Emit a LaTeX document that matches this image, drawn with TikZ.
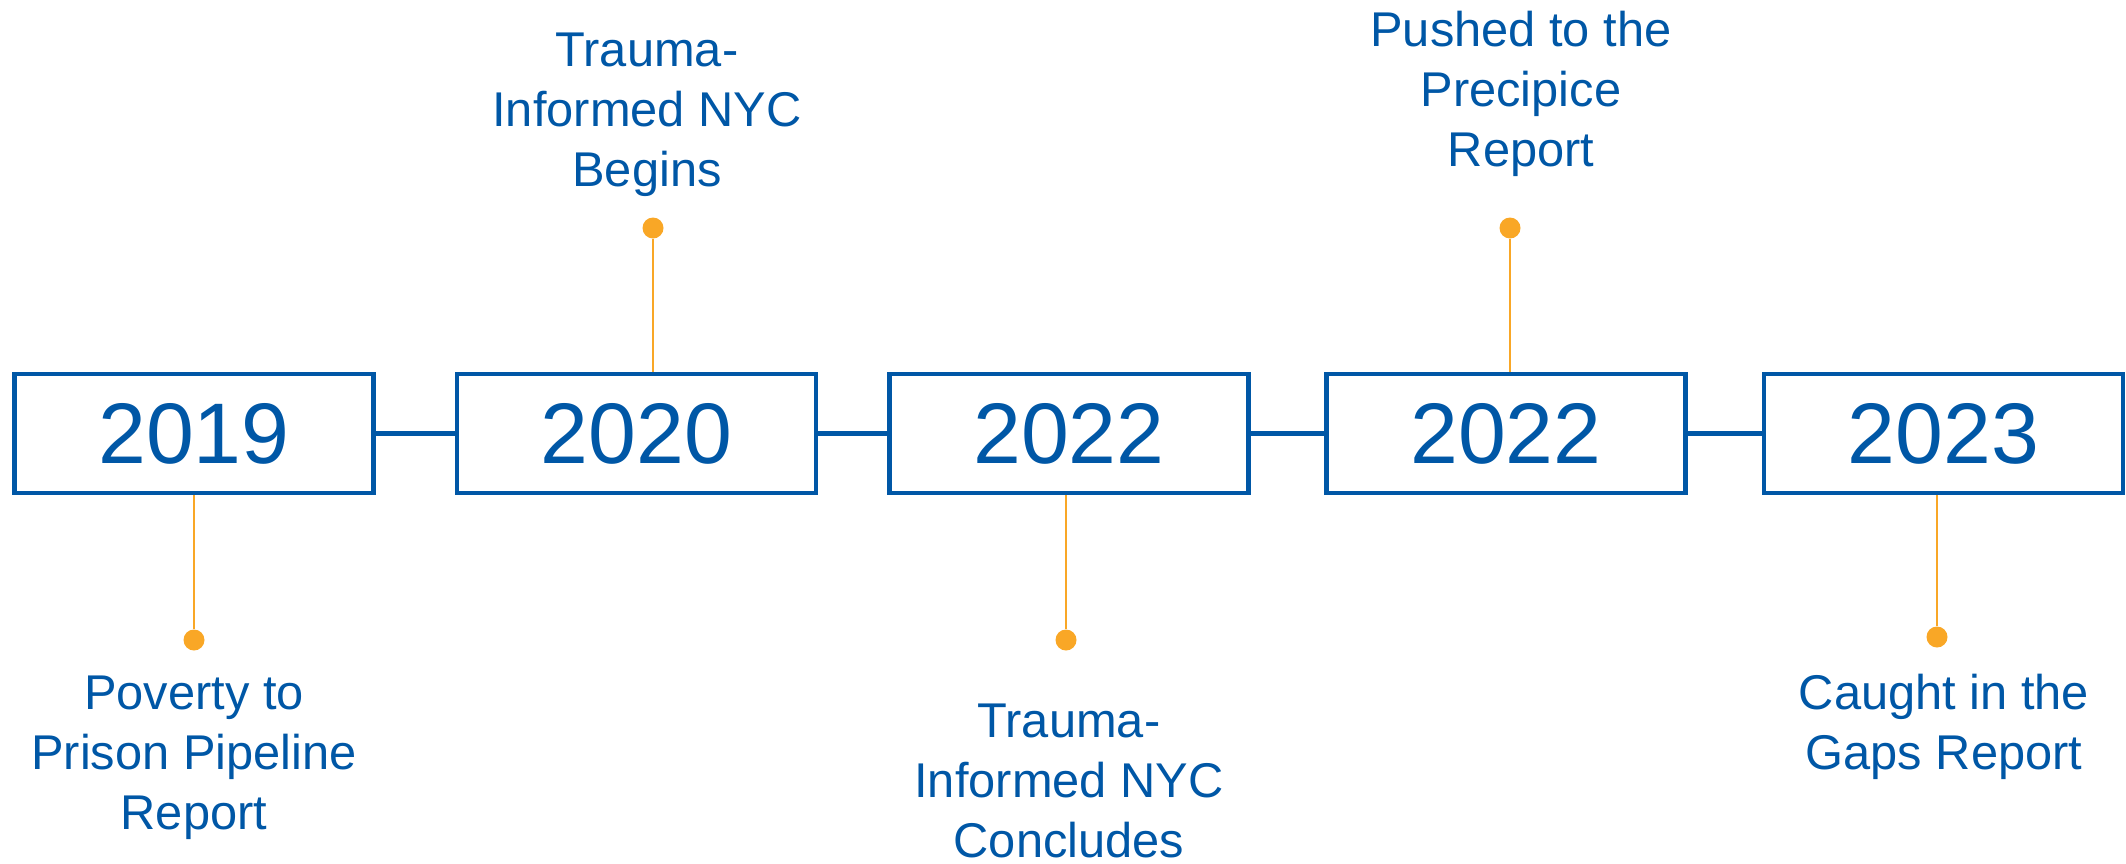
\documentclass[tikz,border=0pt]{standalone}
\usepackage{fontspec}
\setmainfont{Liberation Sans}
\usetikzlibrary{positioning}
\definecolor{tlblue}{RGB}{0,87,166}
\definecolor{tlorange}{RGB}{249,167,38}
\tikzset{
    yearbox/.style={rectangle,draw=tlblue,line width=2.1pt,minimum width=179.5pt,minimum height=59.5pt,inner sep=0pt,text=tlblue,font=\fontsize{43}{50}\selectfont},
    yearlink/.style={draw=tlblue,line width=2.1pt},
    eventdot/.style={circle,fill=tlorange,minimum size=10.5pt,inner sep=0pt},
    eventstem/.style={draw=tlorange,line width=1.3pt},
    eventtext/.style={align=center,inner sep=0pt,text=tlblue,font=\fontsize{24.4}{30}\selectfont}
}

\begin{document}
\begin{tikzpicture}[x=0.5pt,y=-0.5pt]
            \useasboundingbox (0,0) rectangle (2126,863);
            % stems first, so the boxes sit on top of them
            \node[eventdot] (d2019) at (194,640) {};
            \node[eventdot] (d2020) at (653,228) {};
            \node[eventdot] (d2022a) at (1066,640) {};
            \node[eventdot] (d2022b) at (1510,228) {};
            \node[eventdot] (d2023) at (1937,637) {};
            \coordinate (s2019) at (194,493);
            \coordinate (s2020) at (653,374);
            \coordinate (s2022a) at (1066,493);
            \coordinate (s2022b) at (1510,374);
            \coordinate (s2023) at (1937,493);
            \draw[eventstem] (d2019) -- (s2019);
            \draw[eventstem] (d2020) -- (s2020);
            \draw[eventstem] (d2022a) -- (s2022a);
            \draw[eventstem] (d2022b) -- (s2022b);
            \draw[eventstem] (d2023) -- (s2023);
            \node[yearbox] (y2019) at (194,433.5) {2019};
            \node[yearbox] (y2020) at (636.5,433.5) {2020};
            \node[yearbox] (y2022a) at (1069,433.5) {2022};
            \node[yearbox] (y2022b) at (1506,433.5) {2022};
            \node[yearbox] (y2023) at (1943.5,433.5) {2023};
            \draw[yearlink] (y2019) -- (y2020);
            \draw[yearlink] (y2020) -- (y2022a);
            \draw[yearlink] (y2022a) -- (y2022b);
            \draw[yearlink] (y2022b) -- (y2023);
            \node[eventtext] (t2019) at (194,757.5) {Poverty to\\Prison Pipeline\\Report};
            \node[eventtext] (t2020) at (647,114.5) {Trauma-\\Informed NYC\\Begins};
            \node[eventtext] (t2022a) at (1069,780.5) {Trauma-\\Informed NYC\\Concludes};
            \node[eventtext] (t2022b) at (1521,93.5) {Pushed to the\\Precipice\\Report};
            \node[eventtext] (t2023) at (1944,727) {Caught in the\\Gaps Report};
        \end{tikzpicture}
\end{document}
